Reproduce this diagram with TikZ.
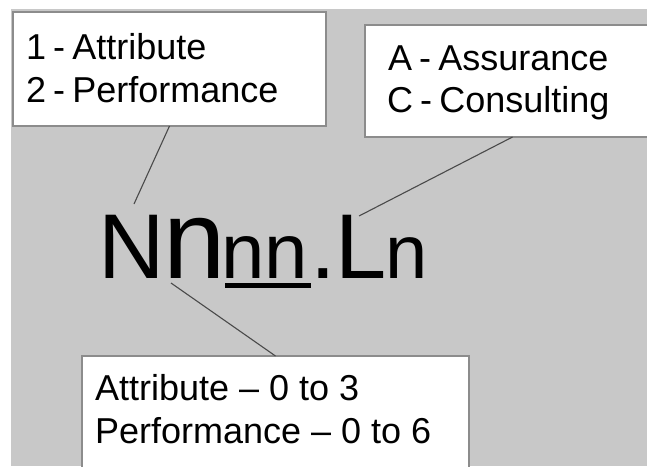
\documentclass[tikz,border=0pt]{standalone}
\usepackage{fontspec}
\setmainfont{Liberation Sans}
\definecolor{bgc}{HTML}{C8C8C8}
\definecolor{framec}{HTML}{8C8C8C}
\definecolor{connc}{HTML}{4A4A4A}
\tikzset{
  box/.style={draw=framec, line width=2pt, fill=white, inner sep=0pt, outer sep=0pt},
  lbl/.style={anchor=base west, inner sep=0pt, outer sep=0pt, font=\fontsize{36}{43}\selectfont},
  code/.style={anchor=base west, inner sep=0pt, outer sep=0pt},
  connector/.style={draw=connc, line width=1.1pt}
}
\newcommand{\hsp}{\hspace{0.2em}}
\begin{document}
\begin{tikzpicture}[x=1pt,y=-1pt]
\useasboundingbox (0,0) rectangle (647,466);
\clip (0,0) rectangle (647,466);
\fill[bgc] (11,9) rectangle (647,466);
% boxes
\node[box, minimum width=313pt, minimum height=114pt] (box1) at (169.5,69) {};
\node[box, minimum width=295pt, minimum height=112pt] (box2) at (512.5,81) {};
\node[box, minimum width=387pt, minimum height=130pt] (box3) at (275.5,421) {};
% box texts
\node[lbl] (t1a) at (26,59) {1\hsp-\hsp Attribute};
\node[lbl] (t1b) at (26,102) {2\hsp-\hsp Performance};
\node[lbl] (t2a) at (388,70) {A\hsp-\hsp Assurance};
\node[lbl] (t2b) at (387,112) {C\hsp-\hsp Consulting};
\node[lbl] (t3a) at (95,400) {Attribute -- 0 to 3};
\node[lbl] (t3b) at (95,443) {Performance -- 0 to 6};
% code
\node[code, font=\fontsize{92}{92}\selectfont] (cN) at (98,278) {N};
\node[code, font=\fontsize{112}{112}\selectfont] (cn1) at (163,278) {n};
\node[code, font=\fontsize{78}{78}\selectfont] (cnn) at (221,278) {nn};
\node[code, font=\fontsize{92}{92}\selectfont] (cdot) at (310,278) {.};
\node[code, font=\fontsize{92}{92}\selectfont] (cL) at (335,278) {L};
\node[code, font=\fontsize{76}{76}\selectfont] (cn2) at (385,278) {n};
\draw[line width=4.5pt] (225,285.5) -- (311,285.5);
% connectors
\coordinate (e1) at (134,204);
\coordinate (e2) at (359,216);
\coordinate (e3) at (171,283);
\draw[connector] (box1.south) -- (e1);
\draw[connector] (box2.south) -- (e2);
\draw[connector] (e3) -- (box3.north);
\end{tikzpicture}
\end{document}
